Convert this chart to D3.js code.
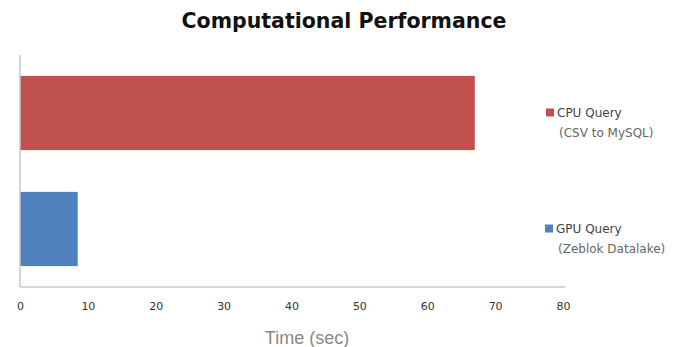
<!DOCTYPE html>
<html>
<head>
<meta charset="utf-8">
<script src="https://cdn.jsdelivr.net/npm/d3@7"></script>
<style>
  html, body { margin: 0; padding: 0; background: #fff; }
  svg { display: block; }
</style>
</head>
<body>
<svg id="chart" width="678" height="347"></svg>
<script>
// Query timings (seconds)
const categories = ["CPU Query", "GPU Query"];
const subtitles = ["(CSV to MySQL)", "(Zeblok Datalake)"];
const times = [67, 8.5];
const colors = ["#c0504d", "#4f81bd"];
const tickValues = [0, 10, 20, 30, 40, 50, 60, 70, 80];

const svg = d3.select("#chart");
const margin = { left: 20, top: 55 };

const x = d3.scaleLinear().domain([0, 80]).range([margin.left, 563]);
const y = d3.scaleBand().domain(categories)
  .range([margin.top, 287]).paddingInner(0.36).paddingOuter(0.18);

// Title
svg.append("text")
  .attr("x", 344).attr("y", 28)
  .attr("text-anchor", "middle")
  .attr("font-family", "'Liberation Sans Narrow', 'DejaVu Sans Condensed', 'Liberation Sans', sans-serif")
  .attr("font-weight", "bold")
  .attr("font-size", 21)
  .attr("fill", "#111")
  .attr("textLength", 325)
  .attr("lengthAdjust", "spacingAndGlyphs")
  .text("Computational Performance");

// Bars
svg.selectAll("rect.bar").data(categories).enter().append("rect")
  .attr("class", "bar")
  .attr("x", x(0))
  .attr("y", d => y(d))
  .attr("width", (d, i) => x(times[i]) - x(0))
  .attr("height", y.bandwidth())
  .attr("fill", (d, i) => colors[i]);

// Axis lines
svg.append("line")
  .attr("x1", x(0)).attr("x2", x(0))
  .attr("y1", margin.top).attr("y2", 287)
  .attr("stroke", "#c8c8c8").attr("stroke-width", 1.5);
svg.append("line")
  .attr("x1", x(0)).attr("x2", 565)
  .attr("y1", 287).attr("y2", 287)
  .attr("stroke", "#c8c8c8").attr("stroke-width", 1.5);

// X axis tick labels
const xAxis = d3.axisBottom(x).tickValues(tickValues).tickSize(0).tickPadding(15);
const gx = svg.append("g").attr("transform", "translate(0,287)").call(xAxis);
gx.select(".domain").remove();
gx.selectAll("text")
  .attr("font-family", "'DejaVu Sans', sans-serif")
  .attr("font-size", 11)
  .attr("fill", "#333");

// X axis title
svg.append("text")
  .attr("x", 307).attr("y", 344)
  .attr("text-anchor", "middle")
  .attr("font-family", "'Liberation Sans', Arial, sans-serif")
  .attr("font-size", 18)
  .attr("fill", "#888")
  .text("Time (sec)");

// Legend
const legend = svg.selectAll("g.legend").data(categories).enter().append("g")
  .attr("class", "legend")
  .attr("transform", (d, i) => `translate(${546 - i},${y(d) + y.bandwidth() / 2})`);
legend.append("rect")
  .attr("x", 0).attr("y", -4.5).attr("width", 8).attr("height", 8)
  .attr("fill", (d, i) => colors[i]);
legend.append("text")
  .attr("x", 11).attr("y", 4)
  .attr("font-family", "'DejaVu Sans', sans-serif")
  .attr("font-size", 12)
  .attr("fill", "#444")
  .text(d => d);
legend.append("text")
  .attr("x", 13).attr("y", 24)
  .attr("font-family", "'DejaVu Sans', sans-serif")
  .attr("font-size", 12)
  .attr("fill", "#666")
  .text((d, i) => subtitles[i]);
</script>
</body>
</html>
